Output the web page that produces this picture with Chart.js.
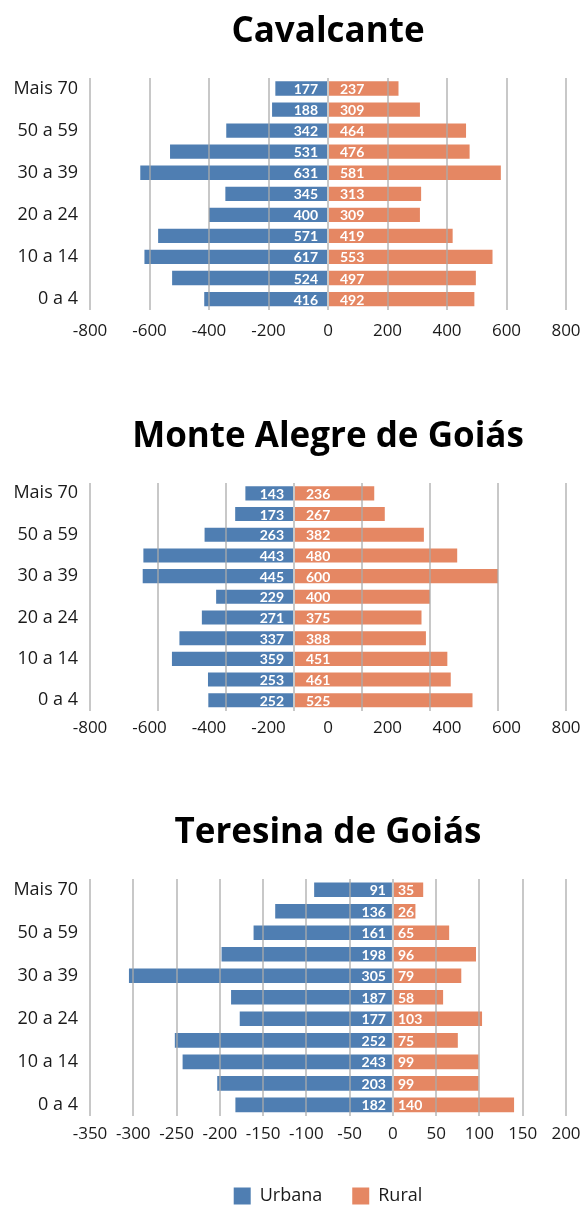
<!DOCTYPE html>
<html>
<head>
<meta charset="utf-8">
<script src="https://cdn.jsdelivr.net/npm/chart.js@4/dist/chart.umd.min.js"></script>
<style>
    html, body { margin: 0; padding: 0; background: #fff; }
    body { width: 581px; height: 1205px; position: relative; overflow: hidden; }
    .panel { position: absolute; left: 0; width: 581px; }
</style>
</head>
<body>
<div class="panel" style="top:0;height:350px"><canvas id="cavalcante"></canvas></div>
<div class="panel" style="top:405px;height:345px"><canvas id="monteAlegre"></canvas></div>
<div class="panel" style="top:801px;height:414px"><canvas id="teresina"></canvas></div>
<script>
const ageGroups = ['Mais 70', '60 a 69', '50 a 59', '40 a 49', '30 a 39', '25 a 29',
                   '20 a 24', '15 a 19', '10 a 14', '5 a 9', '0 a 4'];

const cavalcanteUrbana = [177, 188, 342, 531, 631, 345, 400, 571, 617, 524, 416];
const cavalcanteRural  = [237, 309, 464, 476, 581, 313, 309, 419, 553, 497, 492];

const monteAlegreUrbana = [143, 173, 263, 443, 445, 229, 271, 337, 359, 253, 252];
const monteAlegreRural  = [236, 267, 382, 480, 600, 400, 375, 388, 451, 461, 525];

const teresinaUrbana = [91, 136, 161, 198, 305, 187, 177, 252, 243, 203, 182];
const teresinaRural  = [35, 26, 65, 96, 79, 58, 103, 75, 99, 99, 140];

// tick labels as printed under each pyramid
const ticksCavalcante  = { min: -800, max: 800, step: 200 };
const ticksMonteAlegre = { min: -800, max: 800, step: 200 };
const ticksTeresina    = { min: -350, max: 200, step: 50 };
// the Monte Alegre bars sit on a grid that runs -600..800
const barsMonteAlegre  = { min: -600, max: 800, step: 200 };

const BLUE = '#4f7eb2';
const ORANGE = '#e58763';
const GRID = 'rgba(170, 170, 170, 0.65)';
const NONE = 'rgba(0, 0, 0, 0)';

Chart.defaults.font.family = '"Open Sans", sans-serif';
Chart.defaults.color = '#1a1a1a';
Chart.defaults.animation = false;

// white numbers written inside the bars, next to the zero line
const valueLabels = {
    id: 'valueLabels',
    afterDatasetsDraw(chart, args, opts) {
        const ctx = chart.ctx;
        ctx.save();
        ctx.font = 'bold 14px Lato, sans-serif';
        ctx.fillStyle = '#fff';
        ctx.textBaseline = 'middle';
        chart.data.datasets.forEach((ds, di) => {
            const meta = chart.getDatasetMeta(di);
            const zero = chart.scales[meta.xAxisID].getPixelForValue(0);
            meta.data.forEach((bar, i) => {
                const v = ds.data[i];
                if (v < 0) {
                    ctx.textAlign = 'right';
                    ctx.fillText(String(-v), zero - opts.left, bar.y + 1);
                } else {
                    ctx.textAlign = 'left';
                    ctx.fillText(String(v), zero + opts.right, bar.y + 1);
                }
            });
        });
        ctx.restore();
    }
};

function xAxis(range, cfg, showGrid, showTicks) {
    return {
        type: 'linear', axis: 'x', position: 'bottom', stacked: true,
        min: range.min, max: range.max,
        grid: {
            color: GRID, lineWidth: 2, z: 1,
            drawOnChartArea: showGrid,
            drawTicks: showTicks, tickLength: cfg.tickLen, tickColor: NONE
        },
        border: { display: false },
        ticks: { stepSize: range.step, display: showTicks, padding: 0, font: { size: 17 } },
        afterFit: s => { if (showTicks) s.height += cfg.extra || 0; }
    };
}

function makePyramid(id, title, urbana, rural, cfg) {
    const scales = {
        y: {
            stacked: true,
            grid: { display: false, drawTicks: false },
            border: { display: false },
            ticks: {
                autoSkip: false, padding: 12, font: { size: 18 },
                callback: (v, i) => i % 2 === 0 ? ageGroups[i] : ''
            },
            afterFit: s => { s.width = 90; }
        }
    };
    if (cfg.bars) {
        scales.x = xAxis(cfg.bars, cfg, true, false);
        scales.xLabels = xAxis(cfg.ticks, cfg, false, true);
    } else {
        scales.x = xAxis(cfg.ticks, cfg, true, true);
    }

    return new Chart(document.getElementById(id), {
        type: 'bar',
        data: {
            labels: ageGroups,
            datasets: [
                { label: 'Urbana', data: urbana.map(v => -v), backgroundColor: BLUE,
                  categoryPercentage: 1, barPercentage: 0.68 },
                { label: 'Rural', data: rural, backgroundColor: ORANGE,
                  categoryPercentage: 1, barPercentage: 0.68 }
            ]
        },
        options: {
            indexAxis: 'y',
            responsive: true,
            maintainAspectRatio: false,
            layout: { padding: { left: 0, right: 15, top: 0, bottom: cfg.padBottom } },
            scales,
            plugins: {
                title: {
                    display: true, text: title, fullSize: false, color: '#000',
                    font: { size: 35, weight: 'bold' },
                    padding: { top: 11, bottom: 25 }
                },
                legend: {
                    display: !!cfg.legend, position: 'bottom', fullSize: false,
                    labels: { boxWidth: 17, boxHeight: 17, padding: 30, font: { size: 18 } }
                },
                tooltip: { enabled: false },
                valueLabels: { left: cfg.gapLeft, right: cfg.gapRight }
            }
        },
        plugins: [valueLabels]
    });
}

makePyramid('cavalcante', 'Cavalcante', cavalcanteUrbana, cavalcanteRural,
    { ticks: ticksCavalcante, tickLen: 11, padBottom: 9, gapLeft: 10, gapRight: 12 });

makePyramid('monteAlegre', 'Monte Alegre de Goiás', monteAlegreUrbana, monteAlegreRural,
    { ticks: ticksMonteAlegre, bars: barsMonteAlegre, tickLen: 7, padBottom: 12,
      gapLeft: 10, gapRight: 12 });

makePyramid('teresina', 'Teresina de Goiás', teresinaUrbana, teresinaRural,
    { ticks: ticksTeresina, tickLen: 8, extra: 13, padBottom: 0, legend: true,
      gapLeft: 7, gapRight: 5 });
</script>
</body>
</html>
